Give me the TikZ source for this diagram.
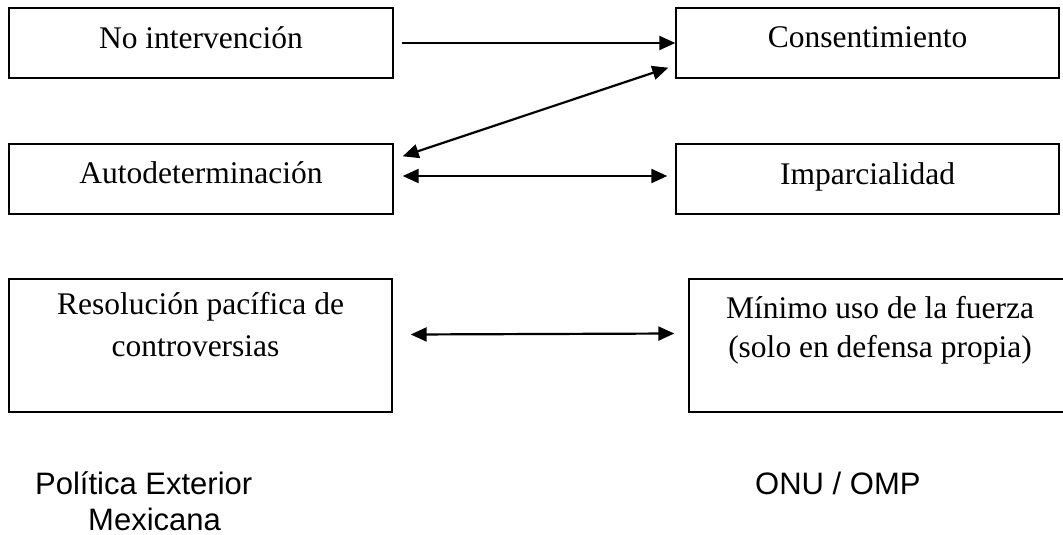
\documentclass[tikz,border=0pt]{standalone}
\usepackage{fontspec}
\setmainfont{Liberation Serif}
\newfontfamily\sansf{Liberation Sans}
\usetikzlibrary{calc,arrows.meta}
\tikzset{
  boxnode/.style={draw=black, line width=1.4pt, rectangle, inner sep=0pt},
  boxtext/.style={anchor=base, inner sep=0pt, font=\fontsize{31.5}{42}\selectfont},
  sidelabel/.style={anchor=base west, inner sep=0pt, font=\sansf\fontsize{31}{38}\selectfont},
  tip/.style={Triangle[length=16pt,width=14pt]},
  conn/.style={line width=2.2pt, -{Triangle[length=16pt,width=14pt]}},
  dconn/.style={line width=2.2pt, {Triangle[length=16pt,width=14pt]}-{Triangle[length=16pt,width=14pt]}}
}
\begin{document}
\begin{tikzpicture}[x=1pt,y=-1pt]
\useasboundingbox (0,0) rectangle (1063,535);
\clip (0,0) rectangle (1063,535);
\fill[white] (0,0) rectangle (1063,535);
% boxes
\node[boxnode, minimum width=384pt, minimum height=70pt] (b1) at (201,43) {};
\node[boxnode, minimum width=383pt, minimum height=70pt] (b2) at (867.5,43) {};
\node[boxnode, minimum width=384pt, minimum height=70pt] (b3) at (201,179) {};
\node[boxnode, minimum width=383pt, minimum height=70pt] (b4) at (867.5,179) {};
\node[boxnode, minimum width=383pt, minimum height=133pt] (b5) at (200.5,345.5) {};
\node[boxnode, minimum width=382pt, minimum height=133pt] (b6) at (880,345.5) {};
% texts
\node[boxtext] (t1) at ($(b1.north)+(0,41)$) {No intervención};
\node[boxtext] (t2) at ($(b2.north)+(0,40)$) {Consentimiento};
\node[boxtext] (t3) at ($(b3.north)+(0,40)$) {Autodeterminación};
\node[boxtext] (t4) at ($(b4.north)+(0,41)$) {Imparcialidad};
\node[boxtext] (t5a) at ($(b5.north)+(0,36)$) {Resolución pacífica de};
\node[boxtext] (t5b) at ($(b5.north)+(-5,78)$) {controversias};
\node[boxtext] (t6a) at ($(b6.north)+(0,40)$) {Mínimo uso de la fuerza};
\node[boxtext] (t6b) at ($(b6.north)+(0,79)$) {(solo en defensa propia)};
% connectors
\draw[conn] ($(b1.east)+(8,0)$) -- (b2.west);
\draw[dconn] ($(b3.north east)+(9,13)$) -- ($(b2.south west)+(-7,-11)$);
\draw[dconn] ($(b3.east)+(9,-3)$) -- ($(b4.west)+(-8,-3)$);
\draw[dconn] ($(b5.east)+(18,-11)$) -- ($(b6.west)+(-14,-12)$);
% bottom labels
\node[sidelabel] (l1) at (35,494) {Política Exterior};
\node[sidelabel] (l2) at (88,530) {Mexicana};
\node[sidelabel] (l3) at (755,494) {ONU / OMP};
\end{tikzpicture}
\end{document}
